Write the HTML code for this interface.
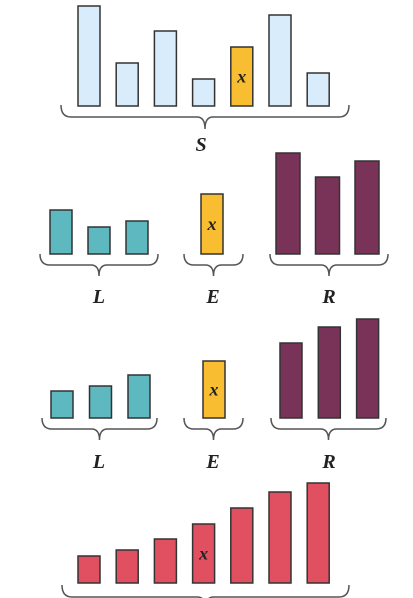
<!DOCTYPE html>
<html><head><meta charset="utf-8"><style>
html,body{margin:0;padding:0;background:#fff;width:413px;height:598px;overflow:hidden}
svg{display:block}
text{font-family:"Liberation Serif",serif;font-weight:bold;font-style:italic;fill:#222}
</style></head><body>
<svg id="c" width="413" height="598"></svg>
<script>
// Row 1: S (array) with pivot x at index 4
const sValues = [100, 43, 75, 27, 59, 91, 33];
const sPivot = 4;
// Row 2
const l1Values = [44, 27, 33];
const e1Values = [60];
const r1Values = [101, 77, 93];
// Row 3
const l2Values = [27, 32, 43];
const e2Values = [57];
const r2Values = [75, 91, 99];
// Row 4 sorted
const sortedValues = [27, 33, 44, 59, 75, 91, 100];
const sortedPivot = 3;

const NS = "http://www.w3.org/2000/svg";
const svg = document.getElementById('c');
function el(tag, attrs){const e=document.createElementNS(NS,tag);for(const k in attrs)e.setAttribute(k,attrs[k]);svg.appendChild(e);return e;}
const scale = v => v * 1.0; // px per unit
function drawBars(vals, x0, step, w, base, fill, name, pivotIdx){
  vals.forEach((v,i)=>{
    const h = scale(v);
    const r = el('rect',{x:x0+i*step,y:base-h,width:w,height:h,fill:fill,stroke:'#333','stroke-width':1.5});
    
    
    if(i===pivotIdx){
      const t = el('text',{x:x0+i*step+w/2,y:base-h/2+6,'text-anchor':'middle','font-size':18});
      t.textContent='x';
      
      
    }
  });
}
function brace(x1,x2,y,d,name){
  const m=(x1+x2)/2, q=d/2;
  const p=`M${x1},${y} Q${x1},${y+q} ${x1+10},${y+q} L${m-8},${y+q} Q${m},${y+q} ${m},${y+d} Q${m},${y+q} ${m+8},${y+q} L${x2-10},${y+q} Q${x2},${y+q} ${x2},${y}`;
  const e=el('path',{d:p,fill:'none',stroke:'#555','stroke-width':1.5});
  
  
}
function label(txt,x,y,name){
  const t=el('text',{x:x,y:y,'text-anchor':'middle','font-size':20});
  t.textContent=txt;
  
  
}
// Row 1
const sColors = sValues.map((v,i)=>i===sPivot?'#f8bd30':'#d8ecfb');
sValues.forEach((v,i)=>{
  const h=scale(v);
  const r=el('rect',{x:78+i*38.2,y:106-h,width:22,height:h,fill:sColors[i],stroke:'#333','stroke-width':1.5});
  
  
  if(i===sPivot){const t=el('text',{x:78+i*38.2+11,y:106-h/2+6,'text-anchor':'middle','font-size':18});t.textContent='x';
    
    }
});
brace(61,349,105,24,'s-brace');
label('S',201,151,'s-label');
// Row 2
drawBars(l1Values,50,38,22,254,'#5db8c0','l1',-1);
drawBars(e1Values,201,38,22,254,'#f8bd30','e1',0);
drawBars(r1Values,276,39.5,24,254,'#7a3358','r1',-1);
brace(40,158,254,22,'l1-brace');
brace(184,243,254,22,'e1-brace');
brace(270,388,254,22,'r1-brace');
label('L',99,303,'l1-label');
label('E',213,303,'e1-label');
label('R',329,303,'r1-label');
// Row 3
drawBars(l2Values,51,38.5,22,418,'#5db8c0','l2',-1);
drawBars(e2Values,203,38,22,418,'#f8bd30','e2',0);
drawBars(r2Values,280,38.3,22,418,'#7a3358','r2',-1);
brace(42,157,418,22,'l2-brace');
brace(184,243,418,22,'e2-brace');
brace(271,386,418,22,'r2-brace');
label('L',99,468,'l2-label');
label('E',213,468,'e2-label');
label('R',329,468,'r2-label');
// Row 4
drawBars(sortedValues,78,38.2,22,583,'#e05060','sorted',sortedPivot);
brace(62,349,585,24,'sorted-brace');
</script>
</body></html>
